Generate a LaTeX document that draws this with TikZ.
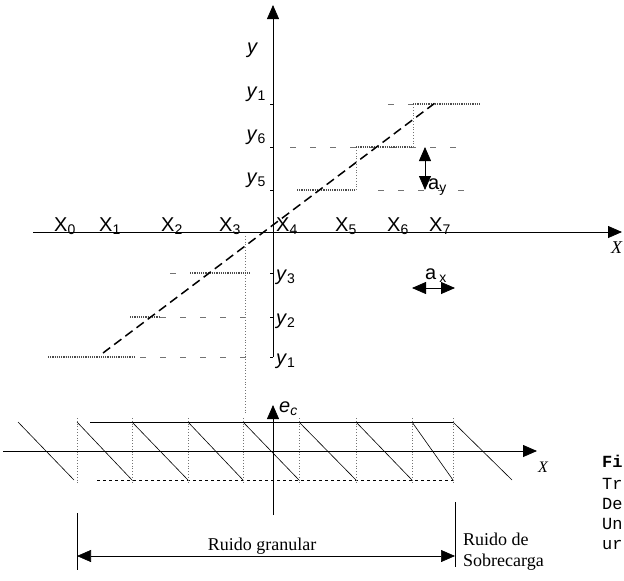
\documentclass[tikz,border=0pt]{standalone}
\usepackage{fontspec}
\setmainfont{Liberation Serif}
\setsansfont{Liberation Sans}
\setmonofont{Liberation Mono}
\usetikzlibrary{arrows.meta}

\begin{document}
\begin{tikzpicture}[x=1pt,y=-1pt,
  axis/.style={thick,-{Triangle[length=14pt,width=12pt]}},
  both/.style={thick,{Triangle[length=14pt,width=12pt]}-{Triangle[length=14pt,width=12pt]}},
  stair/.style={very thick,black!70,densely dotted},
  riser/.style={thick,black!55,dotted},
  guide/.style={black!55,dash pattern=on 6pt off 14pt},
  lab/.style={font=\sffamily\fontsize{20}{22}\selectfont,inner sep=0pt},
  txt/.style={font=\fontsize{18}{20}\selectfont,inner sep=0pt,anchor=base west},
  captxt/.style={font=\ttfamily\fontsize{17}{19}\selectfont,inner sep=0pt,anchor=base west}]
\useasboundingbox (0,0) rectangle (624,581);

% quantizer characteristic
\coordinate (ybot) at (273,357);
\coordinate (ytop) at (273,5);
\coordinate (xleft) at (33,232);
\coordinate (xright) at (622,232);
\draw[axis] (ybot) -- (ytop);
\draw[axis] (xleft) -- (xright);
\node[lab] (ylab) at (252,50) {\itshape y};
\node[font=\itshape\fontsize{18}{20}\selectfont,anchor=west,inner sep=0pt] (xlab) at (611,248) {X};
\foreach \k/\x in {0/65,1/110,2/172,3/230,4/287,5/346,6/398,7/440}
  \node[lab,anchor=base] (X\k) at (\x,231) {X\textsubscript{\k}};
\foreach \n/\y in {1/104,6/147,5/190}{
  \draw (270,\y) -- (273,\y);
  \node[lab,anchor=east] (yu\n) at (266,\y-10) {\textit{y}\textsubscript{\n}};
}
\foreach \n/\y in {3/273,2/317,1/357}{
  \draw (270,\y) -- (273,\y);
  \node[lab,anchor=west] (yd\n) at (276,\y+4) {\textit{y}\textsubscript{\n}};
}
% guides
\draw[guide] (388,104) -- (413,104);
\draw[guide] (290,147) -- (470,147);
\draw[guide] (378,190) -- (470,190);
\draw[guide] (170,273) -- (190,273);
\draw[guide] (160,317) -- (252,317);
\draw[guide] (140,357) -- (252,357);
\draw[riser] (245,236) -- (245,415);
% steps
\draw[stair] (297,190) -- (356,190);
\draw[riser] (356,190) -- (356,147);
\draw[stair] (356,147) -- (413,147);
\draw[riser] (413,147) -- (413,104);
\draw[stair] (413,104) -- (480,104);
\draw[stair] (190,273) -- (250,273);
\draw[stair] (130,317) -- (160,317);
\draw[stair] (48,357) -- (135,357);
\draw[line width=1.5pt,dash pattern=on 9pt off 5pt] (103,353) -- (435,103);
% step sizes
\draw[both] (425,147) -- (425,190);
\node[lab,anchor=west] (ay) at (428,187) {a\textsubscript{y}};
\draw[both] (412,288) -- (455,288);
\node[lab] (ax) at (436,276) {a\,\textsubscript{x}};

% quantization error
\draw[axis] (3,451) -- (537,451);
\draw[axis] (273,515) -- (273,405);
\node[lab,anchor=west] (ec) at (279,409) {\itshape e\textsubscript{c}};
\node[font=\itshape\fontsize{16}{18}\selectfont,inner sep=0pt] (xlow) at (543,467) {X};
\draw[thick] (90,422) -- (453,422);
\draw[thick,dashed] (97,480) -- (453,480);
\foreach \x in {77,132,188,243,299,356,412,453}
  \draw[riser] (\x,418) -- (\x,484);
\foreach \a/\b in {18/74,77/132,132/188,188/243,243/299,299/356,356/412,412/453,453/512}
  \draw[semithick] (\a,422) -- (\b,480);

% regions
\draw (77,513) -- (77,570);
\draw (455,502) -- (455,567);
\draw[both,semithick] (77,556) -- (455,556);
\node[txt,anchor=base] (gran) at (262,550) {Ruido granular};
\node[txt] (sob1) at (463,545) {Ruido de};
\node[txt] (sob2) at (463,566) {Sobrecarga};

% caption (cut off at the edge)
\node[captxt,font=\ttfamily\bfseries\fontsize{17}{19}\selectfont] (c1) at (602,467) {Fi};
\node[captxt] (c2) at (602,489) {Tr};
\node[captxt] (c3) at (602,509) {De};
\node[captxt] (c4) at (602,529) {Un};
\node[captxt] (c5) at (602,549) {ur};
\end{tikzpicture}
\end{document}
